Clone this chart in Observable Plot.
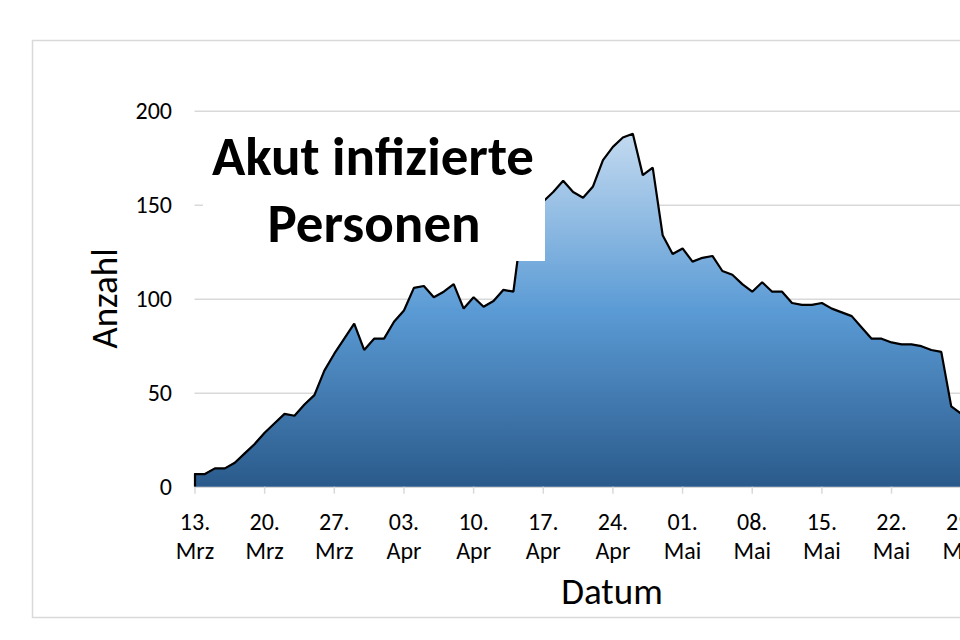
<!DOCTYPE html>
<html><head><meta charset="utf-8">
<script src="https://cdn.jsdelivr.net/npm/d3@7"></script>
<script src="https://cdn.jsdelivr.net/npm/@observablehq/plot@0.6"></script>
<style>
html,body{margin:0;padding:0;overflow:hidden;width:960px;height:640px;background:#fff;}
#wrap{position:relative;width:960px;height:640px;overflow:hidden;}
#wrap svg{position:absolute;left:0;top:0;max-width:none !important;}
</style></head><body><div id="wrap"></div>
<script>
// Days since 13 March (day 0)
const values = [7,7,10,10,13,18,23,29,34,39,38,44,49,62,71,79,87,73,79,79,88,94,106,107,101,104,108,95,101,96,99,105,104,145,150,152,157,163,157,154,160,174,181,186,188,166,170,134,124,127,120,122,123,115,113,108,104,109,104,104,98,97,97,98,95,93,91,85,79,79,77,76,76,75,73,72,43,39];
const tickDays = [0,7,14,21,28,35,42,49,56,63,70,77];
const tickLabels = ["13.\nMrz","20.\nMrz","27.\nMrz","03.\nApr","10.\nApr","17.\nApr","24.\nApr","01.\nMai","08.\nMai","15.\nMai","22.\nMai","29.\nMai"];
const yTicks = [0,50,100,150,200];
const title = ["Akut infizierte","Personen"];
const xTitle = "Datum";
const yTitle = "Anzahl";

const data = values.map((v,i)=>({day:i, value:v}));
const labelByDay = new Map(tickDays.map((d,i)=>[d,tickLabels[i]]));
const FONT = "Carlito, Lato, 'Open Sans', sans-serif";

const gradient = () => {
  const defs = d3.create("svg:defs");
  const g = defs.append("linearGradient").attr("id","areaGrad").attr("x1",0).attr("y1",0).attr("x2",0).attr("y2",1);
  g.append("stop").attr("offset","0%").attr("stop-color","#c3daf0");
  g.append("stop").attr("offset","50%").attr("stop-color","#5b9bd5");
  g.append("stop").attr("offset","100%").attr("stop-color","#2a5a8b");
  return defs.node();
};

const chart = Plot.plot({
  width: 1110, height: 640,
  marginLeft: 194.5, marginRight: 10, marginTop: 110.7, marginBottom: 153.3,
  style: {fontFamily: FONT, background: "transparent", overflow: "visible", maxWidth: "none"},
  x: {type: "linear", domain: [0, 91]},
  y: {domain: [0, 200]},
  marks: [
    gradient,
    Plot.gridY(yTicks, {stroke: "#d9d9d9", strokeOpacity: 1, strokeWidth: 1.5}),
    Plot.areaY(data, {x: "day", y: "value", fill: "url(#areaGrad)"}),
    Plot.lineY(data, {x: "day", y: "value", stroke: "#000", strokeWidth: 2.2, strokeLinejoin: "miter"}),
    Plot.ruleX([data[0]], {x: "day", y1: 0, y2: "value", stroke: "#000", strokeWidth: 2.2}),
    Plot.axisX({ticks: tickDays, tickFormat: d => labelByDay.get(d), tickSize: 7, tickPadding: 14, stroke: "#d9d9d9", strokeOpacity: 1, strokeWidth: 1.5, fill: "#000", fontSize: 24, lineHeight: 1.25, label: null}),
    Plot.axisY({ticks: yTicks, tickSize: 0, tickPadding: 23, fill: "#000", fontSize: 24, label: null})
  ]
});
chart.style.maxWidth = "none";
const wrap = document.getElementById("wrap");
wrap.appendChild(chart);

const ns = "http://www.w3.org/2000/svg";
const ov = d3.create("svg").attr("width",960).attr("height",640).attr("xmlns",ns).style("font-family",FONT);
ov.append("rect").attr("x",32.5).attr("y",40.5).attr("width",1000).attr("height",577).attr("fill","none").attr("stroke","#d9d9d9").attr("stroke-width",1.5);
ov.append("rect").attr("x",203).attr("y",118).attr("width",342).attr("height",143).attr("fill","#fff");
ov.append("text").attr("x",373).attr("y",175).attr("text-anchor","middle").attr("font-weight","bold").attr("font-size",55).text(title[0]);
ov.append("text").attr("x",374).attr("y",242).attr("text-anchor","middle").attr("font-weight","bold").attr("font-size",55).text(title[1]);
ov.append("text").attr("transform","translate(117,298.5) rotate(-90)").attr("text-anchor","middle").attr("font-size",37).text(yTitle);
ov.append("text").attr("x",612).attr("y",604).attr("text-anchor","middle").attr("font-size",37).text(xTitle);
wrap.appendChild(ov.node());
</script></body></html>
